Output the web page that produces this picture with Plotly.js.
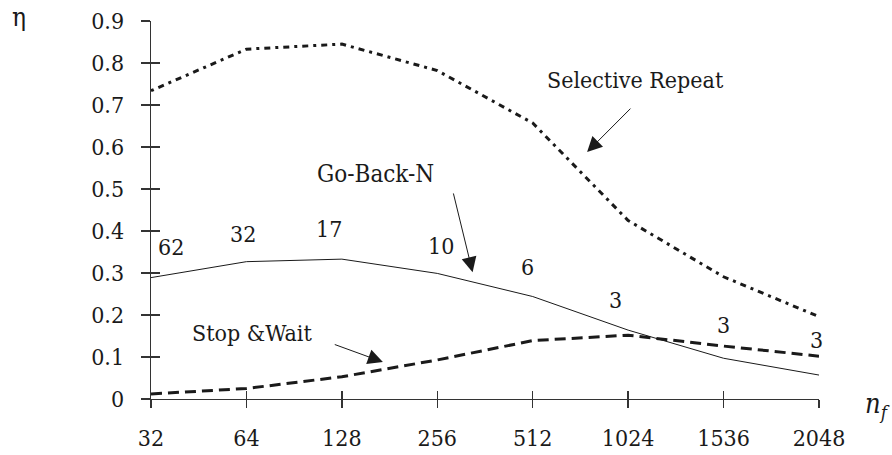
<!DOCTYPE html>
<html>
<head>
<meta charset="utf-8">
<script src="https://cdn.plot.ly/plotly-3.0.1.min.js"></script>
<style>html,body{margin:0;padding:0;background:#fff;}#chart{width:892px;height:455px;}</style>
</head>
<body>
<div id="chart"></div>
<script>
// Data
const frameSizes = ['32', '64', '128', '256', '512', '1024', '1536', '2048'];
const selectiveRepeat = [0.734, 0.833, 0.845, 0.782, 0.657, 0.425, 0.291, 0.196];
const goBackN        = [0.289, 0.327, 0.333, 0.299, 0.244, 0.164, 0.097, 0.057];
const stopAndWait    = [0.012, 0.025, 0.053, 0.093, 0.139, 0.152, 0.126, 0.102];
const windowLabels   = ['62', '32', '17', '10', '6', '3', '3', '3'];

const FONT = 'DejaVu Serif Condensed';
const INK = '#1a1a1a';

const traces = [
  {x: frameSizes, y: selectiveRepeat, type: 'scatter', mode: 'lines', name: 'Selective Repeat',
   line: {color: INK, width: 3, dash: '3px,5px,6px,5px'}},
  // drawn on the overlay axes (identical scales) so those axes show the inner halves of the ticks
  {x: frameSizes, y: goBackN, type: 'scatter', mode: 'lines', name: 'Go-Back-N',
   xaxis: 'x2', yaxis: 'y2', line: {color: INK, width: 1}},
  {x: frameSizes, y: stopAndWait, type: 'scatter', mode: 'lines', name: 'Stop &Wait',
   line: {color: INK, width: 3, dash: '11px,6px'}}
];

// window-size labels placed above the Go-Back-N points (offsets in pixels)
const labelShift = [[20, 31], [-3, 28], [-13, 30], [4, 27], [-5, 30], [-13, 30], [0, 33], [-3, 35]];
const annotations = windowLabels.map((t, i) => ({
  x: i, y: goBackN[i], xref: 'x', yref: 'y', text: t, showarrow: false,
  xshift: labelShift[i][0], yshift: labelShift[i][1],
  font: {family: FONT, size: 23, color: INK}
}));

function txt(text, x, y, size) {
  return {x: x, y: y, xref: 'x', yref: 'y', text: text, showarrow: false,
          font: {family: FONT, size: size || 23, color: INK}};
}
function arrow(x, y, ax, ay) {
  return {x: x, y: y, ax: ax, ay: ay, xref: 'x', yref: 'y', axref: 'x', ayref: 'y',
          text: '', showarrow: true, arrowhead: 2, arrowsize: 3, arrowwidth: 1,
          arrowcolor: INK, standoff: 0, startstandoff: 0};
}
annotations.push(txt('Selective Repeat', 5.08, 0.76, 23));
annotations.push(arrow(4.57, 0.588, 5.04, 0.695));
annotations.push(txt('Go-Back-N', 2.35, 0.536, 24));
annotations.push(arrow(3.37, 0.302, 3.165, 0.493));
annotations.push(txt('Stop &Wait', 1.06, 0.157, 23));
annotations.push(arrow(2.43, 0.088, 1.91, 0.131));
annotations.push({xref: 'paper', yref: 'paper', x: -0.197, y: 1.01, xanchor: 'center', yanchor: 'middle',
  text: 'η', showarrow: false, font: {family: FONT, size: 26, color: INK}});
annotations.push({xref: 'paper', yref: 'paper', x: 1.087, y: -0.018, xanchor: 'center', yanchor: 'middle',
  text: '<i>n<sub>f</sub></i>', showarrow: false, font: {family: FONT, size: 27, color: INK}});

const axisCommon = {showgrid: false, zeroline: false, tickwidth: 1.3, tickcolor: '#333'};

const layout = {
  width: 892, height: 455,
  margin: {l: 151, r: 73, t: 21, b: 56},
  paper_bgcolor: '#fff', plot_bgcolor: '#fff',
  showlegend: false,
  font: {family: FONT, color: INK, size: 23},
  xaxis: Object.assign({}, axisCommon, {
    type: 'category', range: [0, 7], showline: true, linecolor: '#333', linewidth: 1.3,
    ticks: 'outside', ticklen: 8, ticklabelstandoff: 10,
    tickfont: {family: FONT, size: 23, color: INK}
  }),
  xaxis2: Object.assign({}, axisCommon, {
    overlaying: 'x', anchor: 'y2', side: 'bottom', type: 'category', range: [0, 7],
    ticks: 'inside', ticklen: 8, showticklabels: false, showline: false
  }),
  yaxis: Object.assign({}, axisCommon, {
    range: [0, 0.9], dtick: 0.1, tick0: 0, showline: true, linecolor: '#333', linewidth: 1.3,
    ticks: 'outside', ticklen: 9, ticklabelstandoff: 12,
    tickfont: {family: FONT, size: 23, color: INK}
  }),
  yaxis2: Object.assign({}, axisCommon, {
    overlaying: 'y', anchor: 'x2', side: 'left', range: [0, 0.9], dtick: 0.1, tick0: 0,
    ticks: 'inside', ticklen: 9, showticklabels: false, showline: false
  }),
  annotations: annotations
};

Plotly.newPlot('chart', traces, layout, {staticPlot: true, displayModeBar: false});
</script>
</body>
</html>
